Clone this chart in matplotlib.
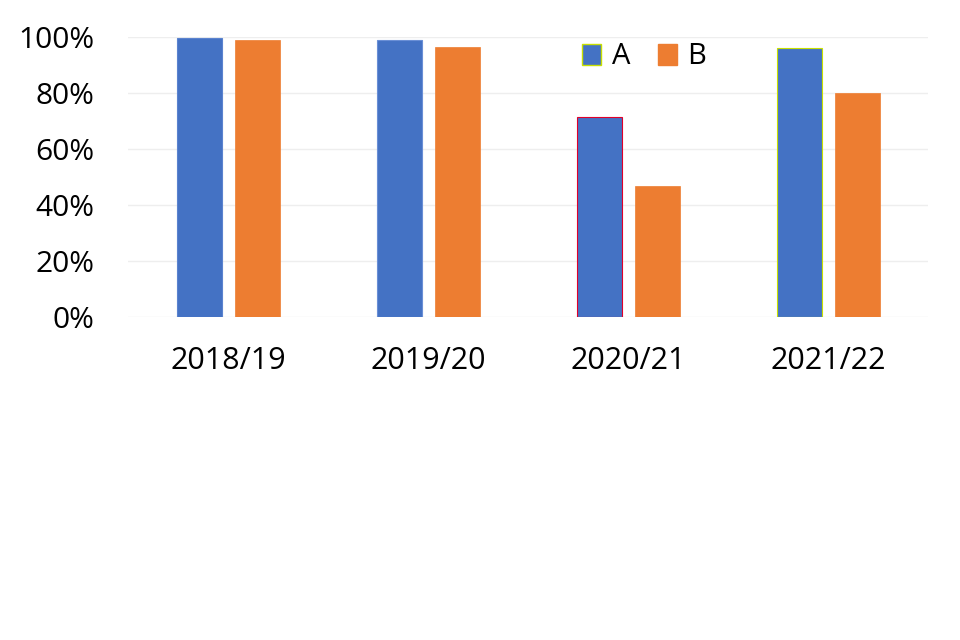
import matplotlib

matplotlib.use("Agg")

import matplotlib.pyplot as plt
import numpy as np
from matplotlib.patches import Patch
from matplotlib.ticker import PercentFormatter

YEARS = ["2018/19", "2019/20", "2020/21", "2021/22"]
SERIES_A = [0.995, 0.988, 0.716, 0.962]
SERIES_B = [0.989, 0.964, 0.469, 0.800]

BLUE = "#4472C4"
ORANGE = "#ED7D31"
# thin rendering artefacts seen on the blue bars of the original
EDGE_A = ["#5b83cf", "#6a8fd6", "#e0002a", "#c8e000"]

plt.rcParams["font.family"] = ["Open Sans", "DejaVu Sans"]

fig = plt.figure(figsize=(9.6, 6.4), dpi=100)
ax = fig.add_axes([128 / 960, 1 - 317 / 640, 800 / 960, 280 / 640])

x = np.arange(len(YEARS))
width = 0.225
offset = 0.145
ax.bar(x - offset, SERIES_A, width, color=BLUE, edgecolor=EDGE_A, linewidth=0.8, zorder=2)
ax.bar(x + offset, SERIES_B, width, color=ORANGE, edgecolor=ORANGE, linewidth=0.5, zorder=2)

ax.set_xlim(-0.5, len(YEARS) - 0.5)
ax.set_ylim(0, 1)
ax.set_yticks(np.linspace(0, 1, 6))
ax.yaxis.set_major_formatter(PercentFormatter(1.0, decimals=0))
ax.set_xticks(x)
ax.set_xticklabels(YEARS)
ax.tick_params(axis="y", length=0, pad=24, labelsize=21.5)
ax.tick_params(axis="x", length=0, pad=21, labelsize=22)
ax.grid(axis="y", color="#eeeeee", linewidth=1.0, zorder=0)
for spine in ax.spines.values():
    spine.set_visible(False)

handles = [
    Patch(facecolor=BLUE, edgecolor="#c8e000", linewidth=1.0, label="A"),
    Patch(facecolor=ORANGE, edgecolor=ORANGE, label="B"),
]
fig.legend(
    handles=handles,
    loc="center",
    bbox_to_anchor=(644 / 960, 1 - 57 / 640),
    ncol=2,
    frameon=False,
    fontsize=21,
    handlelength=0.65,
    handleheight=0.75,
    handletextpad=0.35,
    columnspacing=0.95,
    borderpad=0,
)

fig.savefig("out.png", dpi=100, facecolor="white")
